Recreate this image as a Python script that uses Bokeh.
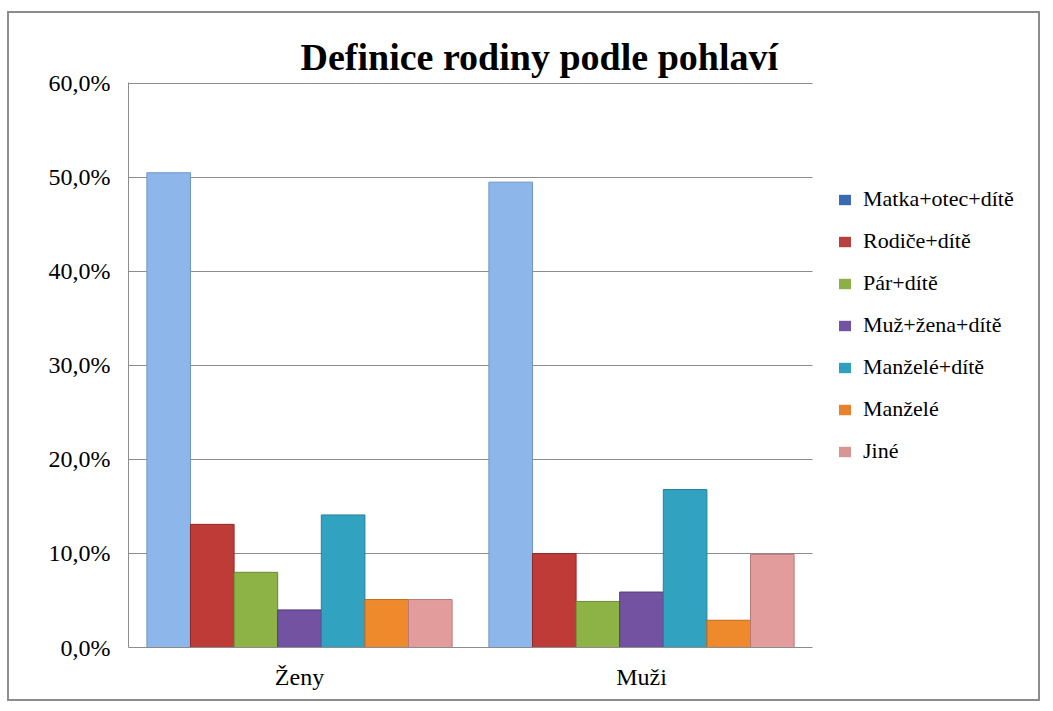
from bokeh.plotting import figure
from bokeh.models import Range1d, FixedTicker, Legend, LegendItem, ColumnDataSource
from bokeh.transform import dodge
from bokeh.embed import file_html
from bokeh.resources import INLINE

categories = ["Ženy", "Muži"]
series_names = ["Matka+otec+dítě", "Rodiče+dítě", "Pár+dítě", "Muž+žena+dítě",
                "Manželé+dítě", "Manželé", "Jiné"]
zeny = [50.5, 13.1, 8.0, 4.0, 14.1, 5.1, 5.1]
muzi = [49.5, 10.0, 4.9, 5.9, 16.8, 2.9, 9.9]
y_ticks = [0, 10, 20, 30, 40, 50, 60]
y_tick_labels = ["0,0%", "10,0%", "20,0%", "30,0%", "40,0%", "50,0%", "60,0%"]
title_text = "Definice rodiny podle pohlaví"

bar_colors = ["#8DB6EA", "#BE3B38", "#8DB245", "#7252A1", "#31A2C0", "#EE8A2C", "#E39C9C"]
edge_colors = ["#6F95C6", "#8F2A28", "#6A8A2E", "#553C7C", "#23819A", "#C06A1C", "#B87878"]
legend_colors = ["#3A6BB0", "#B8403E", "#8DB045", "#7252A1", "#31A0BE", "#E9822A", "#D99594"]

FONT = "Liberation Serif"

n_cat = len(categories)
cat_pos = [i + 0.5 for i in range(n_cat)]
data = {"pos": cat_pos}
for i in range(len(series_names)):
    data[f"s{i}"] = [zeny[i], muzi[i]]
source = ColumnDataSource(data)

# numeric x range: categories occupy [0, n_cat]; space to the right holds the legend
p = figure(x_range=Range1d(0, 2.6725), y_range=Range1d(0, 60.1),
           width=1033, height=690, output_backend="svg", toolbar_location=None,
           min_border_left=119, min_border_right=0, min_border_top=69, min_border_bottom=56)
p.styles = {"border": "2px solid #8C8C8C", "margin-top": "11px", "margin-left": "7px"}
p.outline_line_color = None
p.background_fill_color = "white"

p.title.text = title_text
p.title.align = "left"
p.title.offset = 172
p.title.standoff = 10
p.title.text_font = FONT
p.title.text_font_size = "38px"
p.title.text_font_style = "bold"
p.title.text_color = "black"

bw = 0.1275
items = []
for i, name in enumerate(series_names):
    x = dodge("pos", (i - 3) * bw)
    p.vbar(x=x, top=f"s{i}", width=bw, source=source,
           fill_color=bar_colors[i], line_color=edge_colors[i], line_width=1)
    r = p.vbar(x=x, top=f"s{i}", width=bw, source=source,
               fill_color=legend_colors[i], line_color=None, visible=False)
    items.append(LegendItem(label=name, renderers=[r]))

legend = Legend(items=items, location=(709, 183), orientation="vertical",
                border_line_color=None, background_fill_alpha=0, padding=0, margin=0,
                spacing=16, glyph_height=13, glyph_width=15, label_height=22,
                label_standoff=11, label_text_font="'Liberation Serif', serif",
                label_text_font_size="22px",
                label_text_color="black", inactive_fill_alpha=0)
p.add_layout(legend, "center")

p.yaxis.ticker = FixedTicker(ticks=y_ticks)
p.yaxis.major_label_overrides = {t: l for t, l in zip(y_ticks, y_tick_labels)}
p.yaxis.major_label_text_font = FONT
p.yaxis.major_label_text_font_size = "24px"
p.yaxis.major_label_text_color = "black"
p.yaxis.major_tick_line_color = None
p.yaxis.major_tick_out = 0
p.yaxis.major_tick_in = 0
p.yaxis.minor_tick_line_color = None
p.yaxis.axis_line_color = "#8C8C8C"
p.yaxis.major_label_standoff = 18

p.xaxis.ticker = FixedTicker(ticks=cat_pos)
p.xaxis.major_label_overrides = {t: c for t, c in zip(cat_pos, categories)}
p.xaxis.bounds = (0, n_cat)
p.xaxis.major_label_text_font = FONT
p.xaxis.major_label_text_font_size = "24px"
p.xaxis.major_label_text_color = "black"
p.xaxis.major_tick_line_color = None
p.xaxis.minor_tick_line_color = None
p.xaxis.major_tick_out = 0
p.xaxis.major_tick_in = 0
p.xaxis.axis_line_color = "#8C8C8C"
p.xaxis.major_label_standoff = 16

p.xgrid.grid_line_color = None
p.ygrid.grid_line_color = "#8C8C8C"
p.ygrid.cross_bounds = (0, n_cat)

open("out.html", "w").write(file_html(p, INLINE))
